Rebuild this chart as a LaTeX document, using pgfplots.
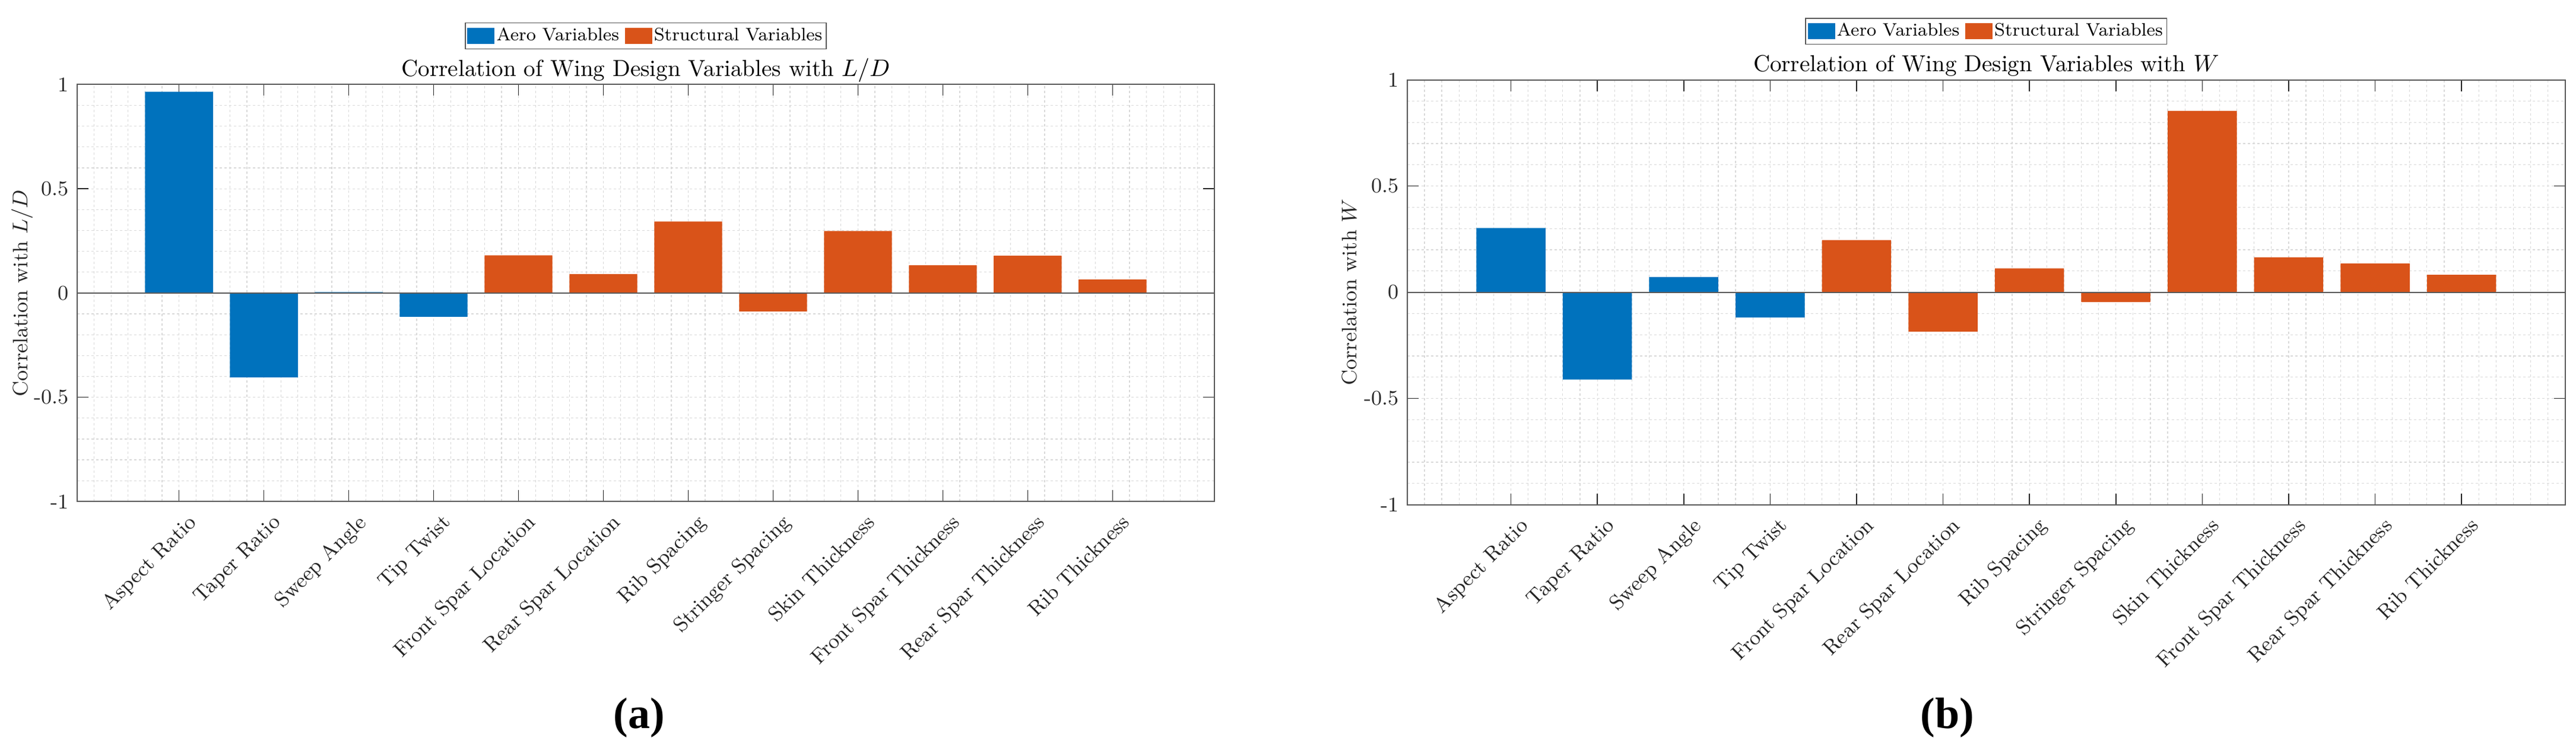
\documentclass[border=0pt]{standalone}
\usepackage{fontspec}
\usepackage{pgfplots}
\usepackage{pgfplotstable}
\pgfplotsset{compat=1.18}
\newfontfamily\capfont{Liberation Serif}
\definecolor{mblue}{rgb}{0,0.447,0.741}
\definecolor{morange}{rgb}{0.85,0.325,0.098}
\definecolor{axgray}{gray}{0.35}
\definecolor{txtgray}{gray}{0.15}

\pgfplotstableread{
x y
1 0.965
2 -0.405
3 0.004
4 -0.114
}\ldaero
\pgfplotstableread{
x y
5 0.181
6 0.091
7 0.343
8 -0.088
9 0.297
10 0.133
11 0.179
12 0.065
}\ldstruct
\pgfplotstableread{
x y
1 0.302
2 -0.411
3 0.072
4 -0.119
}\waero
\pgfplotstableread{
x y
5 0.246
6 -0.185
7 0.112
8 -0.046
9 0.854
10 0.165
11 0.135
12 0.082
}\wstruct
\pgfplotstableread{
x y
-0.2 0
13.2 0
}\zeroline

\pgfplotsset{
  layers/mylayers/.define layer set={axis background,axis grid,main,axis ticks,axis lines,axis tick labels,axis descriptions,axis foreground}{},
  mybar/.style={ybar, bar width=0.8, bar shift=0pt, fill=#1, draw=none,
    legend image code/.code={\fill[##1] (0pt,-3.375pt) rectangle (11.5pt,3.375pt);}},
  corrstyle/.style={
    set layers=mylayers,
    scale only axis,
    xmin=-0.2, xmax=13.2, ymin=-1, ymax=1,
    xtick={1,2,3,4,5,6,7,8,9,10,11,12},
    xticklabels={Aspect Ratio, Taper Ratio, Sweep Angle, Tip Twist, Front Spar Location, Rear Spar Location, Rib Spacing, Stringer Spacing, Skin Thickness, Front Spar Thickness, Rear Spar Thickness, Rib Thickness},
    ytick={-1,-0.5,0,0.5,1},
    yticklabels={-1,-0.5,0,0.5,1},
    minor xtick={0,0.2,...,13.2},
    minor ytick={-0.9,-0.8,...,0.9},
    grid=both,
    major grid style={gray!30, dash pattern=on 1pt off 1pt, line width=0.3pt},
    minor grid style={gray!30, dash pattern=on 1pt off 1pt, line width=0.3pt},
    axis line style={axgray, line width=0.5pt},
    major tick length=4.75pt, minor tick length=0pt,
    tick style={txtgray, line width=0.4pt},
    tick align=inside,
    ticklabel style={font=\fontsize{8.8}{10}\selectfont, text=txtgray},
    xticklabel style={rotate=45, anchor=north east, inner sep=1pt, yshift=-4.6pt},
    ylabel style={at={(rel axis cs:-0.0438,0.5)}, anchor=base, rotate=0, font=\fontsize{8.8}{10}\selectfont, text=txtgray},
    every axis title shift=0pt,
    title style={font=\fontsize{9.75}{12}\selectfont, at={(0.5,1)}, anchor=base, yshift=3.4pt},
    legend columns=2,
    legend cell align=left,
    legend style={at={(0.5,1)}, anchor=south, yshift=14.8pt, draw=axgray, line width=0.4pt,
      font=\fontsize{7.6}{9}\selectfont, inner xsep=0.9pt, inner ysep=1.5pt,
      nodes={inner xsep=0.8pt, inner ysep=0.5pt},
      /tikz/every even column/.append style={column sep=1.6pt}},
  },
}

\begin{document}
\begin{tikzpicture}
\path (0,0) rectangle (1085pt,314.75pt);

\begin{axis}[corrstyle, at={(32.5pt,103.4pt)}, anchor=south west, width=479pt, height=175.75pt,
  title={Correlation of Wing Design Variables with $L/D$},
  ylabel={Correlation with $L/D$}]
\addplot[mybar=mblue] table[x=x,y=y] {\ldaero};
\addlegendentry{Aero Variables}
\addplot[mybar=morange] table[x=x,y=y] {\ldstruct};
\addlegendentry{Structural Variables}
\addplot[forget plot, axgray, line width=0.5pt] table[x=x,y=y] {\zeroline};
\end{axis}

\begin{axis}[corrstyle, at={(592.7pt,102.1pt)}, anchor=south west, width=487.75pt, height=179pt,
  title={Correlation of Wing Design Variables with $W$},
  ylabel={Correlation with $W$}]
\addplot[mybar=mblue] table[x=x,y=y] {\waero};
\addlegendentry{Aero Variables}
\addplot[mybar=morange] table[x=x,y=y] {\wstruct};
\addlegendentry{Structural Variables}
\addplot[forget plot, axgray, line width=0.5pt] table[x=x,y=y] {\zeroline};
\end{axis}

\node[font=\capfont\bfseries\fontsize{18.5}{20}\selectfont, anchor=base] at (269.25pt,7.75pt) {(a)};
\node[font=\capfont\bfseries\fontsize{18.5}{20}\selectfont, anchor=base] at (820.25pt,7.75pt) {(b)};
\pgfresetboundingbox
\useasboundingbox (0,0) rectangle (1085pt,314.75pt);
\end{tikzpicture}
\end{document}
